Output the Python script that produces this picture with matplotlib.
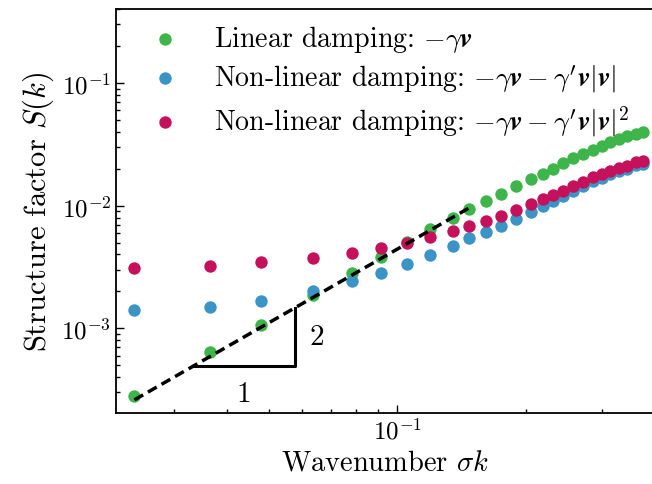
import numpy as np
import matplotlib
matplotlib.use('Agg')
import matplotlib.pyplot as plt

plt.rcParams['font.family'] = 'serif'
plt.rcParams['font.serif'] = ['cmr10', 'DejaVu Serif']
plt.rcParams['mathtext.fontset'] = 'cm'
plt.rcParams['axes.formatter.use_mathtext'] = True
plt.rcParams['axes.unicode_minus'] = False

# wavenumbers sigma*k
k = [0.02429, 0.03654, 0.04806, 0.06366, 0.0784, 0.09147, 0.1052, 0.1192,
     0.1347, 0.1473, 0.1611, 0.1746, 0.1893, 0.2051, 0.2185, 0.2313, 0.2441,
     0.2576, 0.2718, 0.2868, 0.3000, 0.3148, 0.3298, 0.3443, 0.3608, 0.3752]

# structure factors
s_linear = [2.824e-4, 6.355e-4, 1.059e-3, 1.870e-3, 2.827e-3, 3.781e-3, 5.058e-3,
            6.457e-3, 7.894e-3, 9.400e-3, 0.01098, 0.01246, 0.01434, 0.01641,
            0.01813, 0.01991, 0.02229, 0.02434, 0.02639, 0.02861, 0.03085,
            0.03287, 0.03498, 0.03679, 0.03842, 0.04011]
s_abs = [1.398e-3, 1.485e-3, 1.680e-3, 2.028e-3, 2.410e-3, 2.827e-3, 3.316e-3,
         3.986e-3, 4.720e-3, 5.423e-3, 6.069e-3, 6.869e-3, 7.790e-3, 8.803e-3,
         9.945e-3, 0.01082, 0.01195, 0.01310, 0.01442, 0.01581, 0.01681,
         0.01806, 0.01900, 0.02003, 0.02135, 0.02200]
s_sq = [3.088e-3, 3.242e-3, 3.455e-3, 3.725e-3, 4.100e-3, 4.495e-3, 4.964e-3,
        5.504e-3, 6.160e-3, 6.792e-3, 7.504e-3, 8.274e-3, 9.260e-3, 0.01023,
        0.01123, 0.01216, 0.01325, 0.01439, 0.01569, 0.01704, 0.01813,
        0.01929, 0.02029, 0.02118, 0.02259, 0.02328]

# k^2 guide and slope triangle
guide_coef = 0.4427
n_guide = 10
tri_k = [0.0333, 0.0577]

labels = [r'Linear damping: $-\gamma\boldsymbol{v}$',
          r'Non-linear damping: $-\gamma\boldsymbol{v} - \gamma^{\prime}\boldsymbol{v}|\boldsymbol{v}|$',
          r'Non-linear damping: $-\gamma\boldsymbol{v} - \gamma^{\prime}\boldsymbol{v}|\boldsymbol{v}|^2$']
colors = ['#3db54a', '#3b93c6', '#c5105c']

fig = plt.figure(figsize=(6.52, 4.85), dpi=100)
ax = fig.add_axes([0.1779, 0.1474, 0.8267, 0.832])

k = np.array(k)
for s, lab, c in zip([s_linear, s_abs, s_sq], labels, colors):
    ax.scatter(k, s, s=80, color=c, label=lab, linewidths=0, zorder=2)

kg = k[:n_guide]
ax.plot(kg, guide_coef * kg**2, color='black', lw=2.5, ls=(0, (2.9, 1.6)), zorder=3)

k1, k2 = tri_k
y1, y2 = guide_coef * k1**2, guide_coef * k2**2
ax.plot([k1, k2, k2], [y1, y1, y2], color='black', lw=2.2, zorder=3)
ax.text(np.sqrt(k1 * k2), y1 * 0.76, '1', fontsize=21, ha='center', va='top')
ax.text(k2 * 1.08, np.sqrt(y1 * y2), '2', fontsize=21, ha='left', va='center')

ax.set_xscale('log')
ax.set_yscale('log')
ax.set_xlim(0.022, 0.4)
ax.set_ylim(2.06e-4, 0.401)

ax.set_xlabel(r'Wavenumber $\sigma k$', fontsize=20.5)
ax.set_ylabel(r'Structure factor $S(k)$', fontsize=22)
ax.tick_params(which='both', direction='in', labelsize=18, width=1)
ax.tick_params(which='major', length=6)
ax.tick_params(which='minor', length=3)
for sp in ax.spines.values():
    sp.set_linewidth(1.3)

ax.legend(loc='upper left', bbox_to_anchor=(0.013, 1.0), frameon=False, fontsize=20.1,
          handletextpad=0.75, labelspacing=0.3, borderaxespad=0.1)

fig.savefig('out.png', dpi=100)
